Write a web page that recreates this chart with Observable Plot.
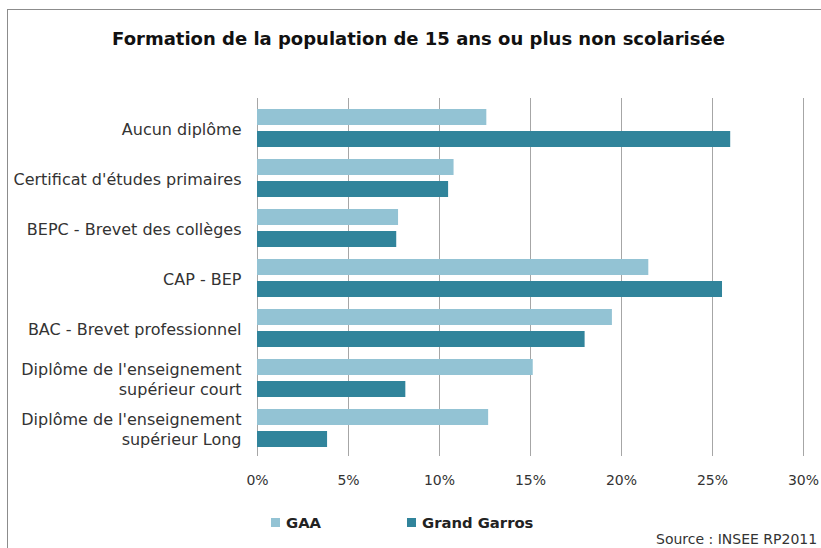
<!DOCTYPE html>
<html>
<head>
<meta charset="utf-8">
<script src="https://cdn.jsdelivr.net/npm/d3@7"></script>
<script src="https://cdn.jsdelivr.net/npm/@observablehq/plot@0.6"></script>
<style>
  html, body { margin: 0; padding: 0; background: #fff; }
  #wrap { position: relative; width: 821px; height: 548px; overflow: hidden; font-family: "DejaVu Sans", sans-serif; }
  #border { position: absolute; left: 7px; top: 9px; width: 900px; height: 700px; border-left: 1px solid #8c8c8c; border-top: 1px solid #8c8c8c; }
  #title { position: absolute; left: 8px; width: 821px; top: 28px; text-align: center; font-weight: bold; font-size: 18px; color: #111; }
  #chart { position: absolute; left: 0; top: 0; }
  .leg { position: absolute; top: 514px; display: flex; align-items: center; font-weight: bold; font-size: 14.8px; color: #222; }
  .sw { width: 9px; height: 9px; margin-right: 6px; }
  #source { position: absolute; left: 656px; top: 531px; font-size: 14px; color: #333; white-space: nowrap; }
</style>
</head>
<body>
<div id="wrap">
  <div id="border"></div>
  <div id="chart"></div>
  <div id="title"></div>
  <div id="leg0" class="leg"></div>
  <div id="leg1" class="leg"></div>
  <div id="source"></div>
</div>
<script>
const titleText = "Formation de la population de 15 ans ou plus non scolarisée";
const sourceText = "Source : INSEE RP2011";
const categories = [
  "Aucun diplôme",
  "Certificat d'études primaires",
  "BEPC - Brevet des collèges",
  "CAP - BEP",
  "BAC - Brevet professionnel",
  "Diplôme de l'enseignement\nsupérieur court",
  "Diplôme de l'enseignement\nsupérieur Long"
];
const seriesNames = ["GAA", "Grand Garros"];
const gaaValues = [12.6, 10.8, 7.75, 21.5, 19.5, 15.15, 12.7];
const grandGarrosValues = [26.0, 10.5, 7.65, 25.55, 18.0, 8.15, 3.85];
const xTicks = [0, 5, 10, 15, 20, 25, 30];
const colors = ["#93c3d4", "#31849b"];

const data = categories.map((c, i) => ({cat: c, gaa: gaaValues[i], gg: grandGarrosValues[i]}));

const chart = Plot.plot({
  width: 821,
  height: 500,
  marginTop: 98,
  marginBottom: 44,
  marginLeft: 257,
  marginRight: 18,
  style: {fontFamily: "DejaVu Sans, sans-serif", fontSize: "14px", color: "#333", background: "transparent"},
  x: {domain: [0, 30], ticks: xTicks, tickFormat: d => d + "%", tickSize: 0, tickPadding: 19, label: null},
  y: {domain: categories, paddingInner: 0.233, paddingOuter: 0.1377, align: 0.571, axis: null},
  marks: [
    Plot.ruleX(xTicks, {stroke: "#a6a6a6", strokeWidth: 1}),
    Plot.barX(data, {x: "gaa", y: "cat", fill: colors[0], insetBottom: 22}),
    Plot.barX(data, {x: "gg", y: "cat", fill: colors[1], insetTop: 22}),
    Plot.text(data, {x: 0, y: "cat", text: "cat", textAnchor: "end", dx: -16, lineHeight: 1.25, fontSize: 16, fill: "#333"})
  ]
});
document.getElementById("chart").appendChild(chart);
document.getElementById("title").textContent = titleText;
document.getElementById("source").textContent = sourceText;
const legLeft = [271, 407];
seriesNames.forEach((s, i) => {
  const el = document.getElementById("leg" + i);
  el.style.left = legLeft[i] + "px";
  const sw = document.createElement("span");
  sw.className = "sw";
  sw.style.background = colors[i];
  el.appendChild(sw);
  const t = document.createElement("span");
  t.textContent = s;
  el.appendChild(t);
});
</script>
</body>
</html>
